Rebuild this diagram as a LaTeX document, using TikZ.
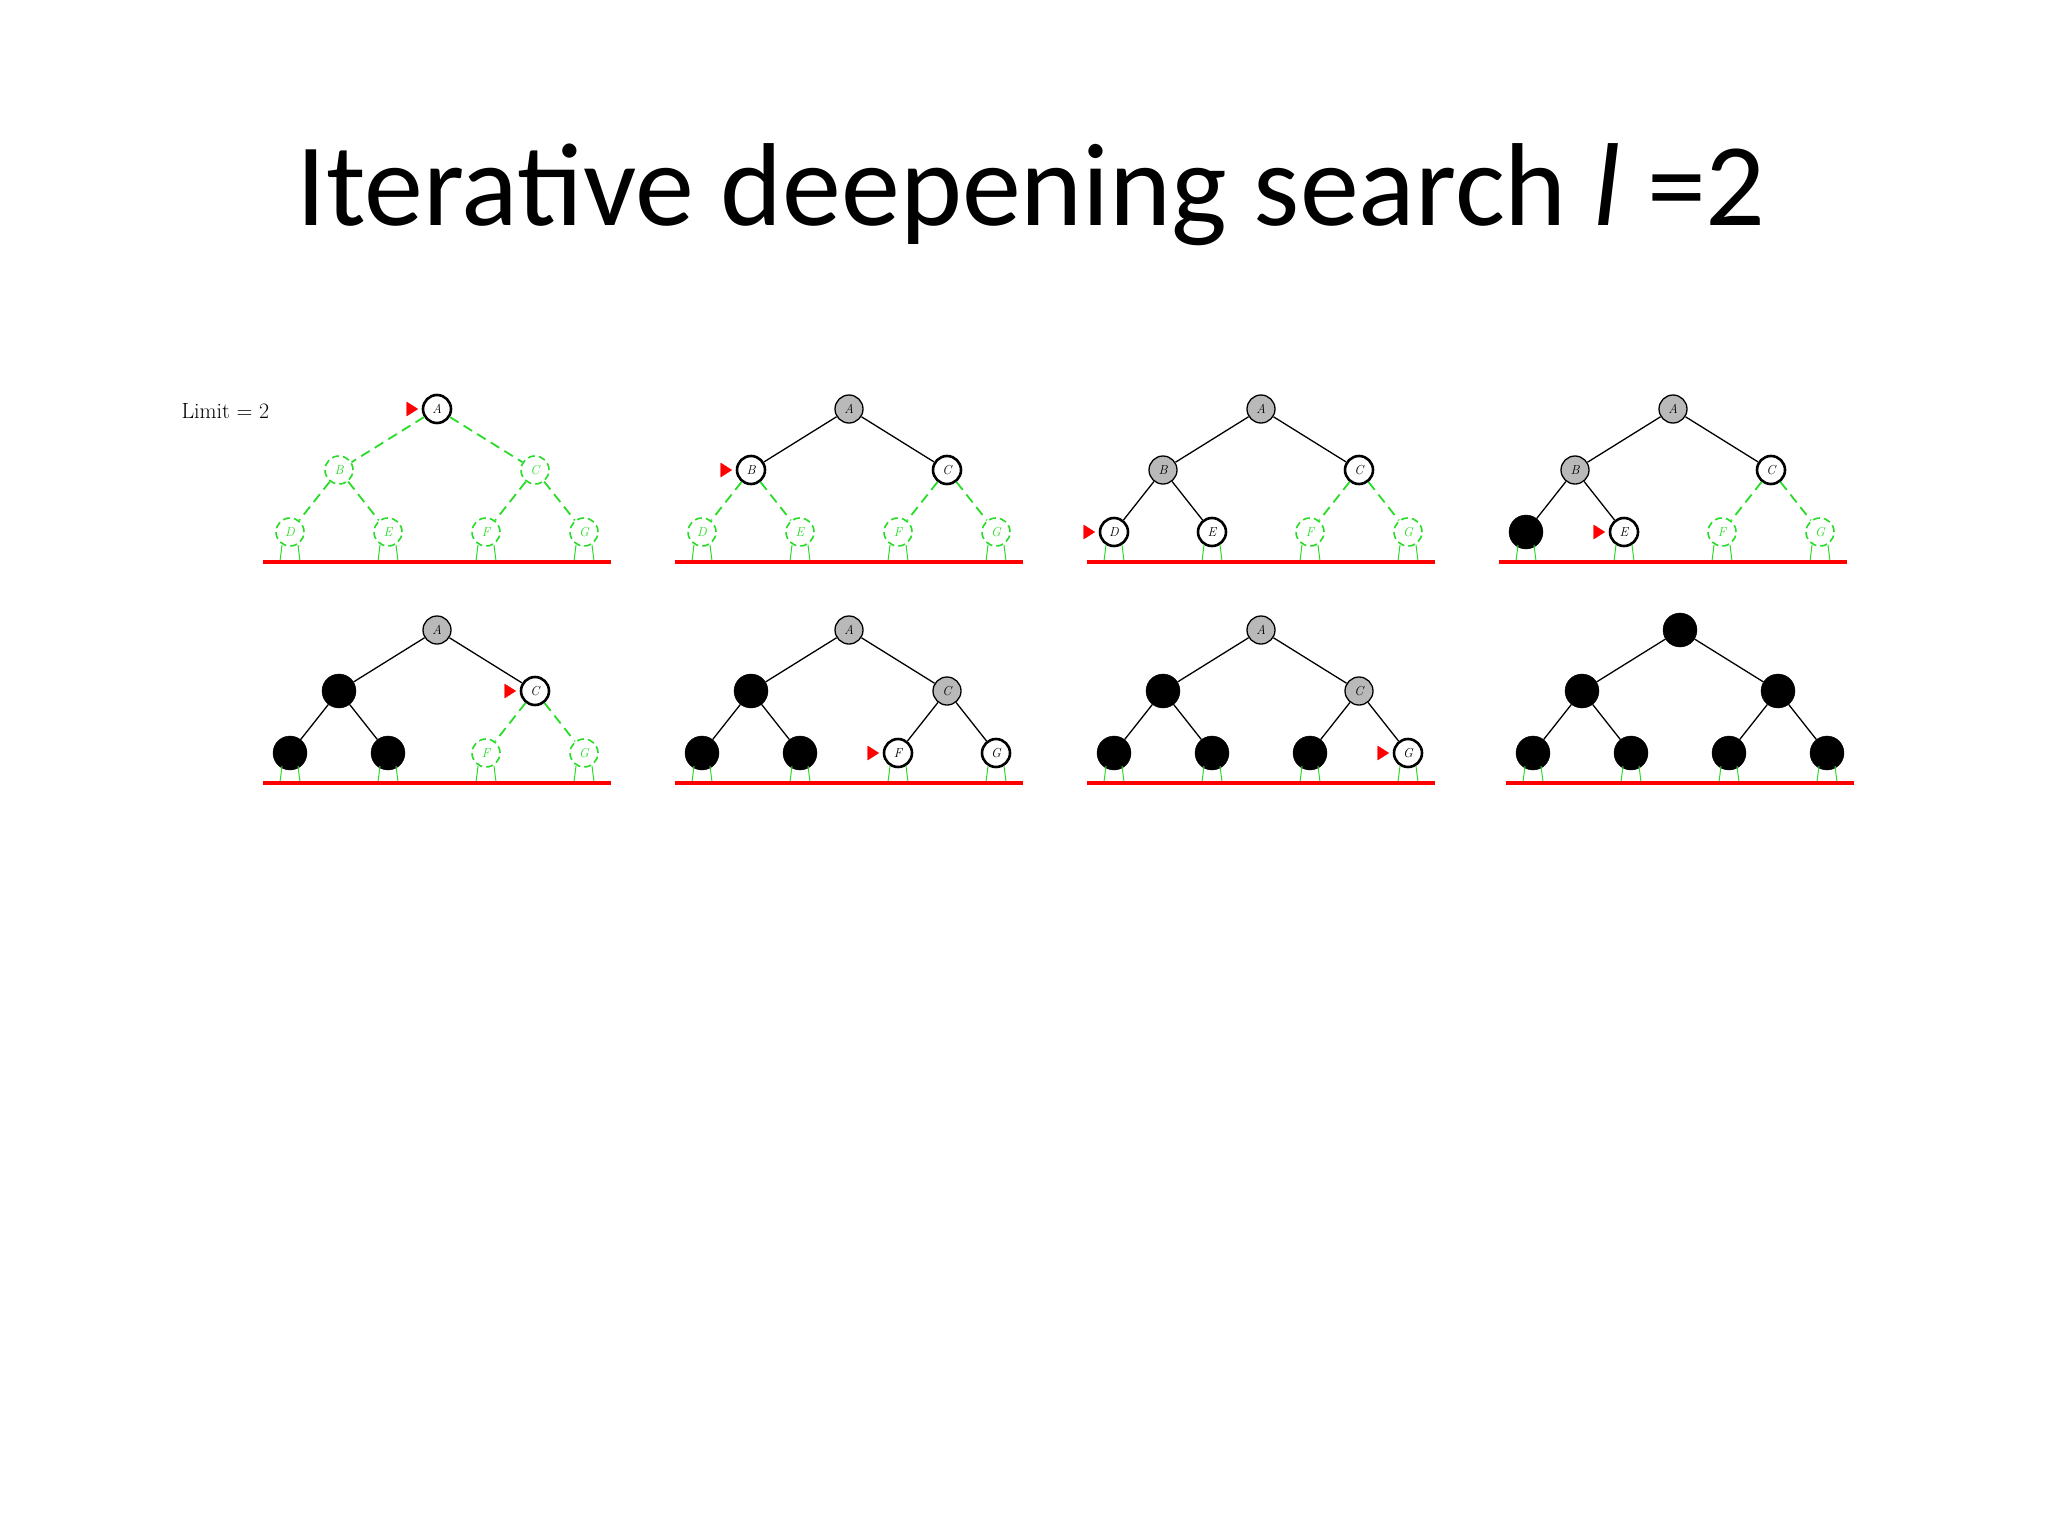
\documentclass[tikz,border=0pt]{standalone}
\usepackage{fontspec}
\newfontfamily\titlefont{Carlito}
\definecolor{grn}{RGB}{40,220,40}
\definecolor{gry}{RGB}{185,185,185}
\tikzset{
  base/.style={circle,inner sep=0pt,minimum size=28pt,font=\fontsize{13}{13}\selectfont\itshape},
  wn/.style={base,draw=black,line width=2.6pt,fill=white},
  gn/.style={base,draw=black,line width=1.3pt,fill=gry},
  bn/.style={base,draw=black,fill=black,minimum size=34pt,text opacity=0},
  fn/.style={base,draw=grn,line width=1.6pt,dashed,dash pattern=on 7pt off 4pt,text=grn},
  wne/.style={draw=black,line width=1.3pt},
  gne/.style={wne}, bne/.style={wne},
  fne/.style={draw=grn,line width=1.8pt,dash pattern=on 10pt off 6pt},
  stub/.style={draw=grn,line width=1pt},
  limitline/.style={draw=red,line width=4pt},
  mk/.style={fill=red,draw=red}
}
\newcommand\drawtree[9]{%
\begin{scope}[shift={#2}]
\node[#3] (#1A) at (0,0) {A};
\node[#4] (#1B) at (-98,61) {B};
\node[#5] (#1C) at (98,61) {C};
\node[#6] (#1D) at (-147,123) {D};
\node[#7] (#1E) at (-49,123) {E};
\node[#8] (#1F) at (49,123) {F};
\node[#9] (#1G) at (147,123) {G};
\draw[#4e] (#1A) -- (#1B);
\draw[#5e] (#1A) -- (#1C);
\draw[#6e] (#1B) -- (#1D);
\draw[#7e] (#1B) -- (#1E);
\draw[#8e] (#1C) -- (#1F);
\draw[#9e] (#1C) -- (#1G);
\foreach \lx in {-147,-49,49,147}{
  \draw[stub] (\lx-8,136) -- (\lx-10,152);
  \draw[stub] (\lx+8,136) -- (\lx+10,152);}
\coordinate (#1L) at (-174,153);
\coordinate (#1R) at (174,153);
\draw[limitline] (#1L) -- (#1R);
\end{scope}}
\newcommand\marker[1]{\fill[mk] ([xshift=-4pt]#1.west) -- ++(-11,-7) -- ++(0,14) -- cycle;}
\begin{document}
\begin{tikzpicture}[x=1pt,y=-1pt]
\useasboundingbox[fill=white] (0,0) rectangle (2048,1536);
\node[font=\titlefont\fontsize{118}{120}\selectfont] (title) at (1031,195) {Iterative deepening search \textit{l} =2};
\node[anchor=base west,font=\fontsize{22}{24}\selectfont] (limit) at (178,418) {Limit = 2};
\drawtree{a}{(437,409)}{wn}{fn}{fn}{fn}{fn}{fn}{fn}
\drawtree{b}{(849,409)}{gn}{wn}{wn}{fn}{fn}{fn}{fn}
\drawtree{c}{(1261,409)}{gn}{gn}{wn}{wn}{wn}{fn}{fn}
\drawtree{d}{(1673,409)}{gn}{gn}{wn}{bn}{wn}{fn}{fn}
\drawtree{e}{(437,630)}{gn}{bn}{wn}{bn}{bn}{fn}{fn}
\drawtree{f}{(849,630)}{gn}{bn}{gn}{bn}{bn}{wn}{wn}
\drawtree{g}{(1261,630)}{gn}{bn}{gn}{bn}{bn}{bn}{wn}
\drawtree{h}{(1680,630)}{bn}{bn}{bn}{bn}{bn}{bn}{bn}
\marker{aA}\marker{bB}\marker{cD}\marker{dE}\marker{eC}\marker{fF}\marker{gG}
\end{tikzpicture}
\end{document}
